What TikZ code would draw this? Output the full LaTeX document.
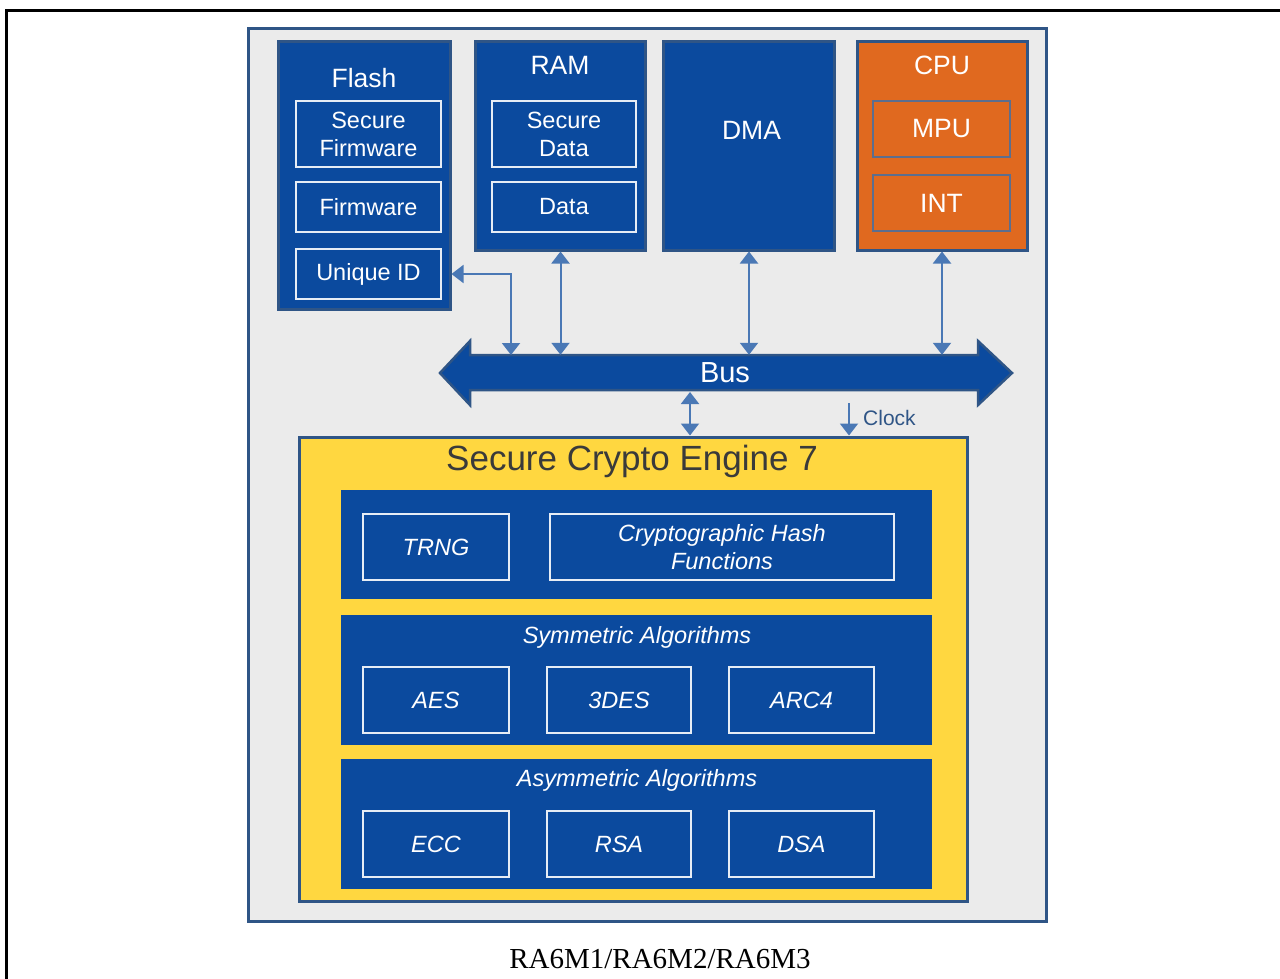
\documentclass[tikz,border=0pt]{standalone}
\usepackage{fontspec}
\setmainfont{Liberation Sans}
\newfontfamily\capfont{Liberation Serif}
\usetikzlibrary{arrows.meta}
\definecolor{bfill}{HTML}{0B4A9E}
\definecolor{bline}{HTML}{2F5586}
\definecolor{gfill}{HTML}{EBEBEB}
\definecolor{yfill}{HTML}{FFD740}
\definecolor{ofill}{HTML}{E0691F}
\definecolor{aline}{HTML}{4A78B5}
\definecolor{oline}{HTML}{5C6E8E}
\definecolor{ttext}{HTML}{3A3A3A}
\tikzset{
  bigbox/.style={draw=bline, line width=3, fill=bfill, inner sep=0},
  cpubox/.style={draw=bline, line width=3, fill=ofill, inner sep=0},
  inbox/.style={draw=white!90!bfill, line width=1.4, fill=bfill, inner sep=0, text=white,
    align=center, font=\fontsize{23.5}{28}\selectfont},
  obox/.style={draw=oline, line width=1.4, fill=ofill, inner sep=0, text=white,
    align=center, font=\fontsize{26.5}{30}\selectfont},
  crbox/.style={draw=white!90!bfill, line width=1.4, fill=bfill, inner sep=0, text=white,
    align=center, font=\fontsize{23.5}{28}\selectfont\itshape},
  panel/.style={draw=none, fill=bfill, inner sep=0},
  head/.style={text=white, inner sep=0, font=\fontsize{26.5}{30}\selectfont},
  ptitle/.style={text=white, inner sep=0, font=\fontsize{23.5}{28}\selectfont\itshape},
  conn/.style={draw=aline, line width=2pt,
    {Triangle[width=18pt,length=12pt]}-{Triangle[width=18pt,length=12pt]}},
  conn1/.style={draw=aline, line width=2pt, -{Triangle[width=18pt,length=12pt]}},
}
\begin{document}
\begin{tikzpicture}[x=1pt,y=-1pt]
\useasboundingbox (0,0) rectangle (1280,979);
\fill[white] (0,0) rectangle (1280,979);
% page frame
\draw[line width=2.6, line cap=rect] (6.5,979) -- (6.5,10.5) -- (1280,10.5);
% grey background
\node[draw=bline, line width=3, fill=gfill, minimum width=798, minimum height=892, inner sep=0] (chip) at (647,475) {};

% Flash
\node[bigbox, minimum width=172, minimum height=267] (flash) at (364,175.5) {};
\node[head] (flasht) at (364,78) {Flash};
\node[inbox, minimum width=145, minimum height=66] (sfw) at (368.5,134) {Secure\\Firmware};
\node[inbox, minimum width=145, minimum height=50] (fw) at (368.5,207) {Firmware};
\node[inbox, minimum width=145, minimum height=50] (uid) at (368.5,274) {Unique ID};

% RAM
\node[bigbox, minimum width=170, minimum height=208] (ram) at (560.5,146) {};
\node[head] (ramt) at (560,65) {RAM};
\node[inbox, minimum width=144, minimum height=66] (sdata) at (564,134) {Secure\\Data};
\node[inbox, minimum width=144, minimum height=50] (data) at (564,207) {Data};

% DMA
\node[bigbox, minimum width=171, minimum height=208] (dma) at (749,146) {};
\node[head] (dmat) at (751.5,130) {DMA};

% CPU
\node[cpubox, minimum width=170, minimum height=208] (cpu) at (942,146) {};
\node[head] (cput) at (942,65) {CPU};
\node[obox, minimum width=137, minimum height=56] (mpu) at (941.5,129) {MPU};
\node[obox, minimum width=137, minimum height=56] (int) at (941.5,203) {INT};

% Bus
\node[inner sep=0, minimum width=508, minimum height=35] (bus) at (724,372.5) {};
\draw[draw=bline, line width=2.5, fill=bfill, line join=miter]
  (440,373) -- (470,341) -- (470,355) -- (978,355) -- (978,341) -- (1012,373)
  -- (978,405) -- (978,390) -- (470,390) -- (470,405) -- cycle;
\node[text=white, inner sep=0, font=\fontsize{29}{32}\selectfont] (bust) at (725,373) {Bus};

% Crypto engine
\node[draw=bline, line width=3, fill=yfill, minimum width=668, minimum height=464, inner sep=0] (sce) at (633,669) {};
\node[text=ttext, inner sep=0, font=\fontsize{35}{38}\selectfont] (scet) at (632,461) {Secure Crypto Engine 7};

\node[panel, minimum width=591, minimum height=109] (p1) at (636.5,544.5) {};
\node[crbox, minimum width=146, minimum height=66] (trng) at (436,547) {TRNG};
\node[crbox, minimum width=344, minimum height=66] (hash) at (722,547) {Cryptographic Hash\\Functions};

\node[panel, minimum width=591, minimum height=130] (p2) at (636.5,680) {};
\node[ptitle] (p2t) at (637,637) {Symmetric Algorithms};
\node[crbox, minimum width=146, minimum height=66] (aes) at (436,700) {AES};
\node[crbox, minimum width=144, minimum height=66] (des) at (619,700) {3DES};
\node[crbox, minimum width=145, minimum height=66] (arc) at (801.5,700) {ARC4};

\node[panel, minimum width=591, minimum height=130] (p3) at (636.5,824) {};
\node[ptitle] (p3t) at (637,780) {Asymmetric Algorithms};
\node[crbox, minimum width=146, minimum height=66] (ecc) at (436,844) {ECC};
\node[crbox, minimum width=144, minimum height=66] (rsa) at (619,844) {RSA};
\node[crbox, minimum width=145, minimum height=66] (dsa) at (801.5,844) {DSA};

% connectors
\coordinate (uidbus) at (511,355);
\draw[conn] (uid.east -| flash.east) -| (uidbus);
\draw[conn] (ram.south) -- (ram.south |- bus.north);
\draw[conn] (dma.south) -- (dma.south |- bus.north);
\draw[conn] (cpu.south) -- (cpu.south |- bus.north);
\coordinate (cbus) at (690,392);
\draw[conn] (cbus) -- (cbus |- sce.north);
\coordinate (clk) at (849,403);
\draw[conn1] (clk) -- (clk |- sce.north);
\node[text=bline, inner sep=0, anchor=west, font=\fontsize{21}{24}\selectfont] (clkt) at (863,418) {Clock};

% caption
\node[inner sep=0, font=\capfont\fontsize{29}{32}\selectfont] (cap) at (660,959) {RA6M1/RA6M2/RA6M3};
\end{tikzpicture}
\end{document}
